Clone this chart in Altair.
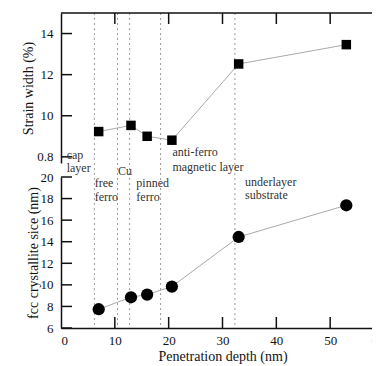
import altair as alt
import pandas as pd

# ---- data ----
depth = [7.0, 13.0, 16.0, 20.6, 33.0, 53.0]
strain = [9.23, 9.53, 9.00, 8.81, 12.52, 13.46]
cryst = [7.74, 8.85, 9.10, 9.84, 14.44, 17.38]
boundaries = [6.2, 10.5, 12.75, 18.5, 32.3]
x_ticks = [10, 20, 30, 40, 50]
x_labels = [0, 10, 20, 30, 40, 50, 60]
strain_ticks = [8, 10, 12, 14]
cryst_ticks = [6, 8, 10, 12, 14, 16, 18, 20]
ann_text = ["cap", "layer", "Cu", "free", "ferro", "pinned", "ferro",
            "anti-ferro", "magnetic layer", "underlayer", "substrate"]
ann_x = [1.06, 1.06, 10.6, 6.25, 6.25, 14.0, 14.0, 20.7, 20.7, 34.2, 34.2]
ann_y = [8.08, 7.44, 7.30, 6.71, 6.03, 6.71, 6.03, 8.22, 7.49, 6.76, 6.13]

# ---- layout ----
XR = 323          # full x range of the plot (extends past the window, as in the reference)
VW = 311          # visible view width
H = 315           # total plot height (both panels)
TOP_H = 150       # top panel height
BOT_Y0 = 164      # y where the bottom panel starts
TICK = 11
FONT = "Liberation Serif"
INK = "#111111"

pts = pd.DataFrame({"depth": depth, "strain": strain, "cryst": cryst})
bnd = pd.DataFrame({"b": boundaries})
xt = pd.DataFrame({"t": x_ticks})
st = pd.DataFrame({"t": strain_ticks})
ct = pd.DataFrame({"t": cryst_ticks})
ann = pd.DataFrame({"label": ann_text, "x": ann_x, "y": ann_y})
one = pd.DataFrame({"a": [0]})

xs = alt.Scale(domain=[0, 60], range=[0, XR], nice=False, zero=False)
ys1 = alt.Scale(domain=[7.7, 15], range=[TOP_H, 0], nice=False, zero=False)
ys2 = alt.Scale(domain=[6, 20], range=[H, BOT_Y0], nice=False, zero=False)

x_axis = alt.Axis(title="Penetration depth (nm)", values=x_labels, ticks=False,
                  labelOverlap=False, labelPadding=6, titlePadding=2)
y1_axis = alt.Axis(title="Strain width (%)", values=strain_ticks, ticks=False, orient="left",
                   labelExpr="datum.value == 8 ? '0.8' : datum.label",
                   labelOverlap=False, labelPadding=8, titlePadding=1)
y2_axis = alt.Axis(title="fcc crystallite sice (nm)", values=cryst_ticks, ticks=False,
                   orient="left", labelOverlap=False, labelPadding=8, titlePadding=0)


def X(field):
    return alt.X(field, scale=xs, axis=x_axis)


def Y1(field, axis=None):
    return alt.Y(field, scale=ys1, axis=axis)


def Y2(field, axis=None):
    return alt.Y(field, scale=ys2, axis=axis)


rules = alt.Chart(bnd).mark_rule(color="#9a9a9a", strokeDash=[2, 3], strokeWidth=1).encode(
    x=X("b:Q"), y=alt.value(0), y2=alt.value(H))

line1 = alt.Chart(pts).mark_line(color="#aaaaaa", strokeWidth=1).encode(
    x=X("depth:Q"), y=Y1("strain:Q", y1_axis))
pts1 = alt.Chart(pts).mark_point(shape="square", filled=True, size=90, color="black",
                                 opacity=1).encode(x=X("depth:Q"), y=Y1("strain:Q"))

line2 = alt.Chart(pts).mark_line(color="#aaaaaa", strokeWidth=1).encode(
    x=X("depth:Q"), y=Y2("cryst:Q", y2_axis))
pts2 = alt.Chart(pts).mark_point(shape="circle", filled=True, size=150, color="black",
                                 opacity=1).encode(x=X("depth:Q"), y=Y2("cryst:Q"))

# inward ticks
lt1 = alt.Chart(st).mark_rule(color=INK, strokeWidth=1.5).encode(
    y=Y1("t:Q"), x=alt.value(0), x2=alt.value(TICK))
rt1 = alt.Chart(st).mark_rule(color=INK, strokeWidth=1.5).encode(
    y=Y1("t:Q"), x=alt.value(XR - TICK), x2=alt.value(XR))
lt2 = alt.Chart(ct).mark_rule(color=INK, strokeWidth=1.5).encode(
    y=Y2("t:Q"), x=alt.value(0), x2=alt.value(TICK))
rt2 = alt.Chart(ct).mark_rule(color=INK, strokeWidth=1.5).encode(
    y=Y2("t:Q"), x=alt.value(XR - TICK), x2=alt.value(XR))
tt = alt.Chart(xt).mark_rule(color=INK, strokeWidth=1.5).encode(
    x=X("t:Q"), y=alt.value(0), y2=alt.value(TICK))
bt = alt.Chart(xt).mark_rule(color=INK, strokeWidth=1.5).encode(
    x=X("t:Q"), y=alt.value(H - TICK), y2=alt.value(H))

# frame pieces (top border, right borders)
top_border = alt.Chart(one).mark_rule(color=INK, strokeWidth=1.5).encode(
    x=alt.value(0), x2=alt.value(XR), y=alt.value(0))
rb1 = alt.Chart(one).mark_rule(color=INK, strokeWidth=1.5).encode(
    x=alt.value(XR), y=alt.value(0), y2=alt.value(TOP_H))
rb2 = alt.Chart(one).mark_rule(color=INK, strokeWidth=1.5).encode(
    x=alt.value(XR), y=alt.value(BOT_Y0), y2=alt.value(H))

labels = alt.Chart(ann).mark_text(align="left", baseline="middle", font=FONT,
                                  fontSize=12, color="#333333").encode(
    x=X("x:Q"), y=Y1("y:Q"), text="label:N")

chart = alt.layer(
    rules, line1, line2, pts1, pts2, lt1, rt1, lt2, rt2, tt, bt,
    top_border, rb1, rb2, labels,
).resolve_scale(y="independent").resolve_axis(y="independent").properties(
    width=VW, height=H,
    autosize=alt.AutoSizeParams(type="none"),
    padding={"left": 53, "top": 5, "right": 0, "bottom": 36},
    background="white",
).configure_view(stroke=None).configure_axis(
    grid=False, domainColor=INK, domainWidth=1.5,
    labelFont=FONT, labelFontSize=13, labelColor=INK,
    titleFont=FONT, titleFontSize=14, titleFontWeight="normal", titleColor=INK,
)

chart.save("out.html", embed_options={"renderer": "svg", "actions": False})
